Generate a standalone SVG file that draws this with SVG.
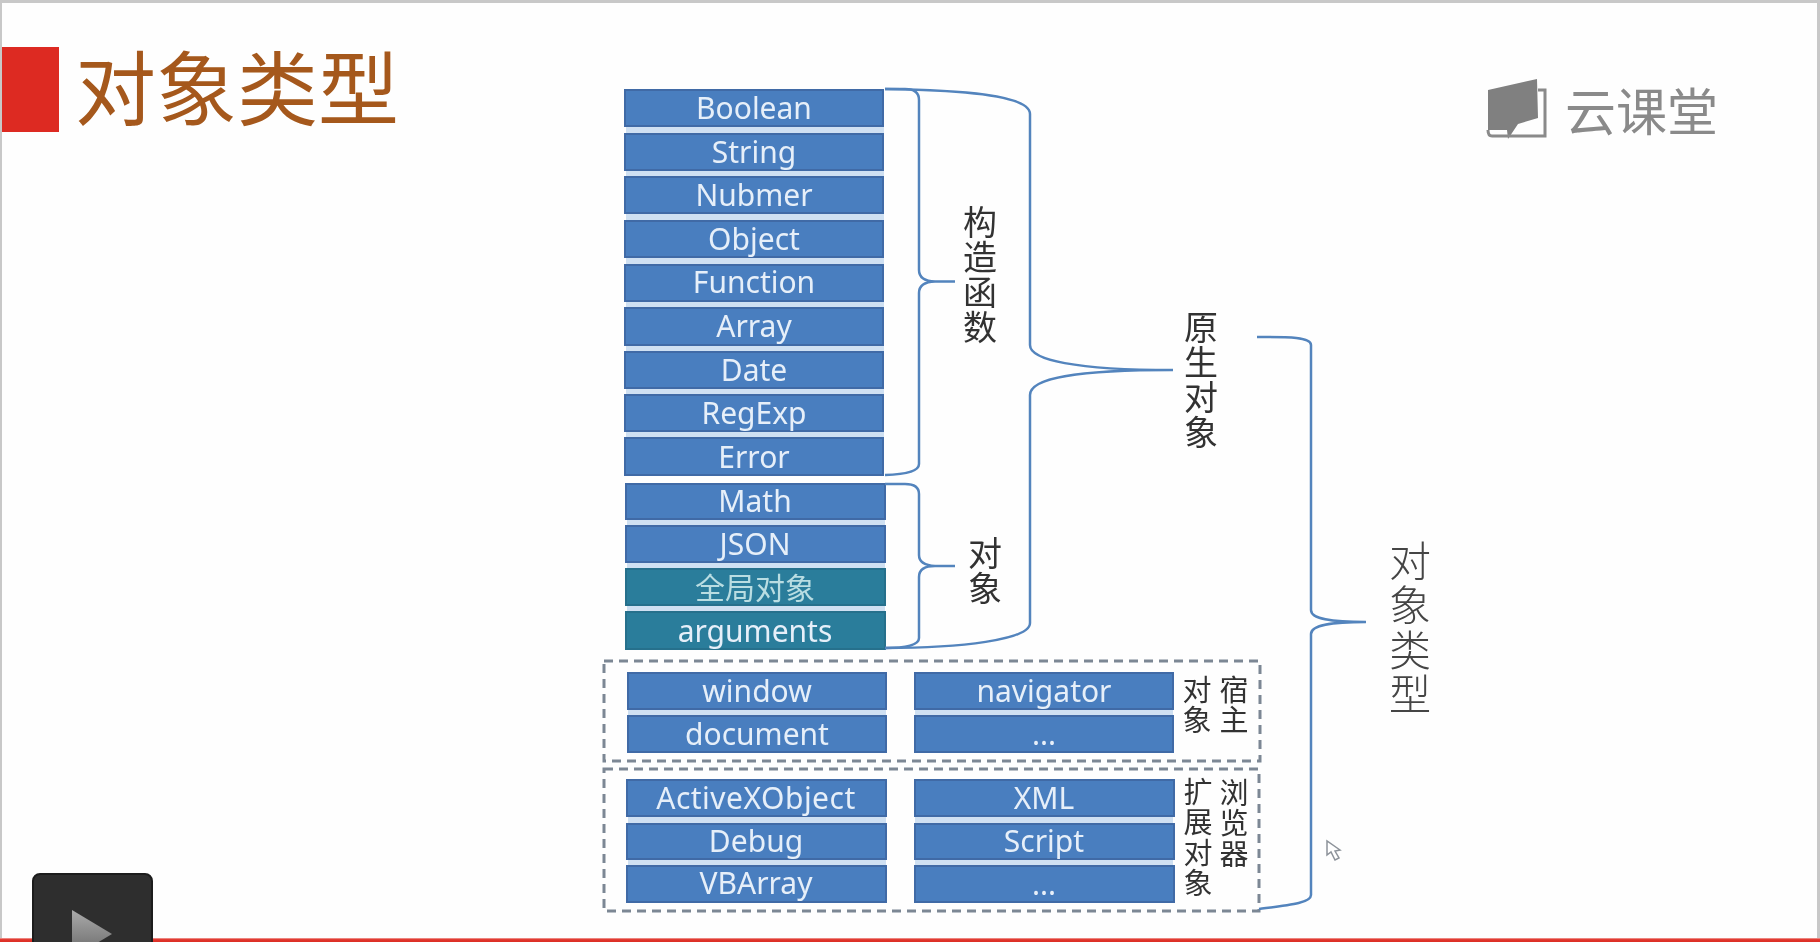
<svg xmlns="http://www.w3.org/2000/svg" width="1820" height="942" viewBox="0 0 1820 942">
<style>
text{font-family:"Noto Sans","Noto Sans CJK SC",sans-serif}
.b{fill:#4a7ebf;stroke:#3f6ba6;stroke-width:2}
.t{fill:#2b7d9b;stroke:#27708c;stroke-width:2}
.l{fill:#e6eff9;font-size:30px;text-anchor:middle}
.v{font-family:"Noto Sans CJK SC","Noto Sans",sans-serif;writing-mode:vertical-rl;fill:#333}
.s34{font-size:34px;letter-spacing:1px}
.s29{font-size:29px;letter-spacing:1.500px}
.br{fill:none;stroke:#5384bd;stroke-width:2.5}
.d{fill:none;stroke:#7b8794;stroke-width:3;stroke-dasharray:9 6}
.back{fill:#cfe0f2}
</style>
<defs>
<filter id="soft" x="-2%" y="-2%" width="104%" height="104%"><feGaussianBlur stdDeviation="0.7"/></filter>
<linearGradient id="tri" x1="0" y1="0" x2="0" y2="1"><stop offset="0" stop-color="#aaaaaa"/><stop offset="1" stop-color="#666666"/></linearGradient>
<linearGradient id="redfade" x1="0" y1="0" x2="0" y2="1"><stop offset="0" stop-color="#f2a8a4"/><stop offset="0.4" stop-color="#e0352c"/><stop offset="1" stop-color="#dc2e26"/></linearGradient>
</defs>
<rect width="1820" height="942" fill="#fefefe"/>
<g id="frame" fill="#c8c8c8"><rect width="1820" height="3"/><rect width="2" height="942"/><rect x="1817" width="3" height="942"/></g>
<rect id="bottom-line" y="938" width="1820" height="4" fill="url(#redfade)"/>
<g filter="url(#soft)">
<g id="heading">
<rect x="2" y="47" width="57" height="85" fill="#dd2a20"/>
<text x="75" y="119" font-size="81" fill="#a5581c" style="font-family:'Noto Sans CJK SC','Noto Sans',sans-serif;font-weight:400">对象类型</text>
</g>
<g id="logo">
<path d="M1488 90L1537 79L1538 118L1518 124L1508 139L1507 130L1488 130Z" fill="#808080"/>
<path d="M1538 90H1545V136H1492Q1488 136 1488 130" fill="none" stroke="#8a8a8a" stroke-width="3"/>
<text x="1565" y="131" font-size="51" fill="#8a8a8a" style="font-family:'Noto Sans CJK SC','Noto Sans',sans-serif;font-weight:400">云课堂</text>
</g>
<rect class="back" x="626" y="120" width="258" height="355"/>
<rect class="back" x="627" y="500" width="258" height="120"/>
<rect class="back" x="628" y="700" width="258" height="30"/>
<rect class="back" x="915" y="700" width="258" height="30"/>
<rect class="back" x="628" y="810" width="258" height="70"/>
<rect class="back" x="915" y="810" width="258" height="70"/>
<g id="boolean"><rect class="b" x="625" y="90" width="258" height="36"/><text class="l" x="754" y="119">Boolean</text></g>
<g id="string"><rect class="b" x="625" y="134" width="258" height="36"/><text class="l" x="754" y="163">String</text></g>
<g id="nubmer"><rect class="b" x="625" y="177" width="258" height="36"/><text class="l" x="754" y="206">Nubmer</text></g>
<g id="object"><rect class="b" x="625" y="221" width="258" height="36"/><text class="l" x="754" y="250">Object</text></g>
<g id="function"><rect class="b" x="625" y="265" width="258" height="36"/><text class="l" x="754" y="293">Function</text></g>
<g id="array"><rect class="b" x="625" y="308" width="258" height="37"/><text class="l" x="754" y="337">Array</text></g>
<g id="date"><rect class="b" x="625" y="352" width="258" height="36"/><text class="l" x="754" y="381">Date</text></g>
<g id="regexp"><rect class="b" x="625" y="395" width="258" height="36"/><text class="l" x="754" y="424">RegExp</text></g>
<g id="error"><rect class="b" x="625" y="438" width="258" height="37"/><text class="l" x="754" y="468">Error</text></g>
<g id="math"><rect class="b" x="626" y="484" width="259" height="35"/><text class="l" x="755" y="512">Math</text></g>
<g id="json"><rect class="b" x="626" y="526" width="259" height="36"/><text class="l" x="755" y="555">JSON</text></g>
<g id="global"><rect class="t" x="626" y="569" width="259" height="36"/><text class="l" x="755" y="599" style="fill:#b9dde2;font-family:'Noto Sans CJK SC',sans-serif">全局对象</text></g>
<g id="arguments"><rect class="t" x="626" y="612" width="259" height="37"/><text class="l" x="755" y="642">arguments</text></g>
<g id="window"><rect class="b" x="628" y="673" width="258" height="36"/><text class="l" x="757" y="702">window</text></g>
<g id="document"><rect class="b" x="628" y="716" width="258" height="36"/><text class="l" x="757" y="745">document</text></g>
<g id="navigator"><rect class="b" x="915" y="673" width="258" height="36"/><text class="l" x="1044" y="702">navigator</text></g>
<g id="host-more"><rect class="b" x="915" y="716" width="258" height="36"/><text class="l" x="1044" y="745">...</text></g>
<g id="activex"><rect class="b" x="627" y="780" width="259" height="36"/><text class="l" x="756" y="809" style="letter-spacing:.5px">ActiveXObject</text></g>
<g id="debug"><rect class="b" x="627" y="824" width="259" height="35"/><text class="l" x="756" y="852">Debug</text></g>
<g id="vbarray"><rect class="b" x="627" y="866" width="259" height="36"/><text class="l" x="756" y="894">VBArray</text></g>
<g id="xml"><rect class="b" x="915" y="780" width="259" height="36"/><text class="l" x="1044" y="809">XML</text></g>
<g id="script"><rect class="b" x="915" y="824" width="259" height="35"/><text class="l" x="1044" y="852">Script</text></g>
<g id="ext-more"><rect class="b" x="915" y="866" width="259" height="36"/><text class="l" x="1044" y="895">...</text></g>
<g id="connectors">
<rect class="d" x="604" y="661" width="656" height="100"/>
<rect class="d" x="604" y="769" width="655" height="142"/>
<path class="br" d="M885 89H905Q919 89 919 100V270Q919 281 935 281.500H955M935 281.500Q919 282 919 293V464Q919 474 885 475"/>
<path class="br" d="M885 484H905Q919 484 919 494V555Q919 565 935 566H955M935 566Q919 566 919 577V638Q919 648 885 648"/>
<path class="br" d="M885 89C960 90 1030 95 1030 114V345C1030 360 1075 370 1173 370M1173 370C1075 370 1030 378 1030 395V623C1030 640 960 648 885 648"/>
<path class="br" d="M1257 337C1290 337 1311 337 1311 345V610C1311 619 1330 622 1366 622M1366 622C1330 622 1311 625 1311 634V895C1311 903 1290 905 1259 909"/>
</g>
<g id="label-constructor"><text class="v s34" x="980" y="205">构造函数</text></g>
<g id="label-objects"><text class="v s34" x="985" y="536">对象</text></g>
<g id="label-native"><text class="v s34" x="1201" y="310">原生对象</text></g>
<g id="label-host"><text class="v s29" x="1234" y="675">宿主</text><text class="v s29" x="1197" y="675">对象</text></g>
<g id="label-browser"><text class="v s29" x="1234" y="778">浏览器</text><text class="v s29" x="1198" y="777">扩展对象</text></g>
<g id="label-types"><text class="v" x="1410" y="540" font-size="42" fill="#444" style="letter-spacing:2.500px;fill:#444;font-weight:300">对象类型</text></g>
<path id="cursor" d="M1327 841L1327 855L1331 852L1335 860L1339 858L1335 851L1340 850Z" fill="#fff" stroke="#8d939a" stroke-width="1.500"/>
</g>
<g id="play">
<rect x="33" y="874" width="119" height="90" rx="7" fill="#2e2e2e" stroke="#1c1c1c" stroke-width="2"/>
<path d="M72 910L112 934L72 958Z" fill="url(#tri)"/>
</g>
</svg>
